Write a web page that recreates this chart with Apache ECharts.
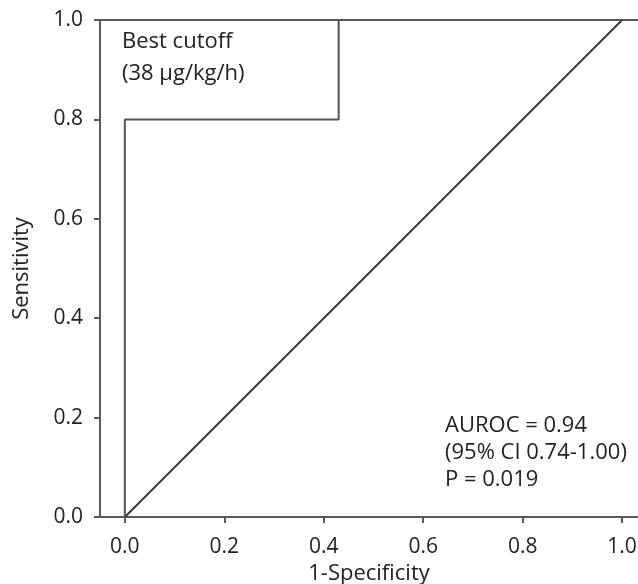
<!DOCTYPE html>
<html><head><meta charset="utf-8">
<script src="https://cdn.jsdelivr.net/npm/echarts@6/dist/echarts.min.js"></script>
<style>html,body{margin:0;padding:0;background:#fff}#c{width:638px;height:584px}</style>
</head><body><div id="c"></div>
<script>
const rocX = [0, 0, 0.43, 0.43, 1.0];
const rocY = [0, 0.8, 0.8, 1.0, 1.0];
const refX = [0, 1];
const refY = [0, 1];
const tickVals = [0, 0.2, 0.4, 0.6, 0.8, 1.0];
const xTitle = '1-Specificity';
const yTitle = 'Sensitivity';
const cutoffText = ['Best cutoff', '(38 μg/kg/h)'];
const statsText = ['AUROC = 0.94', '(95% CI 0.74-1.00)', 'P = 0.019'];

const FONT = 'Open Sans';
const chart = echarts.init(document.getElementById('c'));
const axisCol = '#5a5a5a';
chart.setOption({
  animation: false,
  textStyle: {fontFamily: FONT},
  grid: {left: 100, top: 20, right: 0, bottom: 67, containLabel: false, outerBoundsMode: 'none'},
  xAxis: [{
    type: 'value', min: -0.05, max: 1.032,
    axisLine: {show: true, onZero: false, lineStyle: {color: axisCol, width: 2}},
    axisTick: {show: true, customValues: tickVals, length: 6, lineStyle: {color: axisCol, width: 2}},
    axisLabel: {customValues: tickVals, formatter: v => v.toFixed(1), color: '#222', fontSize: 21, fontFamily: FONT, margin: 20},
    splitLine: {show: false},
    name: xTitle, nameLocation: 'middle', nameGap: 43,
    nameTextStyle: {color: '#222', fontSize: 22, fontFamily: FONT}
  }, {
    type: 'value', position: 'top', min: -0.05, max: 1.032,
    axisLine: {show: true, onZero: false, lineStyle: {color: axisCol, width: 2}},
    axisTick: {show: false}, axisLabel: {show: false}, splitLine: {show: false}
  }],
  yAxis: {
    type: 'value', min: 0, max: 1, interval: 0.2,
    axisLine: {show: true, onZero: false, lineStyle: {color: axisCol, width: 2}},
    axisTick: {show: true, length: 6, lineStyle: {color: axisCol, width: 2}},
    axisLabel: {formatter: v => v.toFixed(1), color: '#222', fontSize: 21, fontFamily: FONT, margin: 17},
    splitLine: {show: false},
    name: yTitle, nameLocation: 'middle', nameGap: 67, nameRotate: 90,
    nameTextStyle: {color: '#222', fontSize: 22, fontFamily: FONT}
  },
  series: [{
    type: 'line', data: rocX.map((x, i) => [x, rocY[i]]), symbol: 'none',
    lineStyle: {color: '#555', width: 2}, z: 3
  }, {
    type: 'line', data: refX.map((x, i) => [x, refY[i]]), symbol: 'none',
    lineStyle: {color: '#3a3a3a', width: 2}, z: 2
  }],
  graphic: [{
    type: 'text', left: 122, top: 26,
    style: {text: cutoffText.join('\n'), font: '22px "Open Sans"', fill: '#222', lineHeight: 32}
  }, {
    type: 'text', left: 445, top: 412,
    style: {text: statsText.join('\n'), font: '22px "Open Sans"', fill: '#222', lineHeight: 27}
  }]
});
</script></body></html>
